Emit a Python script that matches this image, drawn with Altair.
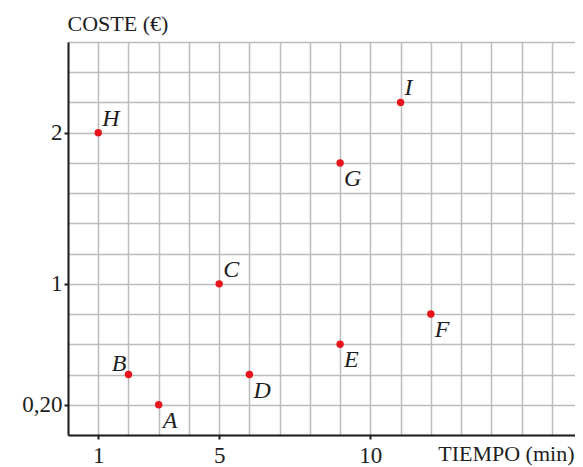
import altair as alt
import pandas as pd

labels = ["A", "B", "C", "D", "E", "F", "G", "H", "I"]
tiempo = [3, 2, 5, 6, 9, 12, 9, 1, 11]
coste = [0.2, 0.4, 1.0, 0.4, 0.6, 0.8, 1.8, 2.0, 2.2]

x_grid = list(range(0, 18))
y_grid = [round(i * 0.2, 1) for i in range(0, 14)]
x_ticks = [1, 5, 10]
y_ticks = [0.2, 1, 2]

df = pd.DataFrame({"label": labels, "tiempo": tiempo, "coste": coste})

below_right = ["A", "D", "E", "F", "G"]
above_right = ["C", "H", "I"]
above_left = ["B"]

FONT = "Liberation Serif"
INK = "#1e1e1e"

x_test = " || ".join(f"datum.value == {v}" for v in x_ticks)
y_test = " || ".join(f"datum.value == {v}" for v in y_ticks)

x_enc = alt.X(
    "tiempo:Q",
    scale=alt.Scale(domain=[0, 17], nice=False, zero=False, range=[0, 514]),
    axis=alt.Axis(
        values=x_grid,
        tickCount=len(x_grid),
        grid=True,
        gridColor="#bcbcbc",
        gridWidth=1.5,
        domainColor=INK,
        domainWidth=2,
        tickColor=INK,
        tickWidth=2,
        tickSize=4,
        tickOpacity={"condition": {"test": x_test, "value": 1}, "value": 0},
        labelExpr=f"({x_test}) ? datum.label : ''",
        labelFont=FONT,
        labelFontSize=23,
        labelColor=INK,
        labelPadding=5,
        labelFlush=False,
        labelOverlap=False,
        title="TIEMPO (min)",
        titleFont=FONT,
        titleFontSize=22,
        titleFontWeight="normal",
        titleColor=INK,
        titleAlign="right",
        titleAnchor="end",
        titleBaseline="alphabetic",
        titleX=506,
        titleY=25,
    ),
)

y_enc = alt.Y(
    "coste:Q",
    scale=alt.Scale(domain=[0, 2.6], nice=False, zero=False),
    axis=alt.Axis(
        values=y_grid,
        tickCount=len(y_grid),
        grid=True,
        gridColor="#bcbcbc",
        gridWidth=1.5,
        domainColor=INK,
        domainWidth=2,
        tickColor=INK,
        tickWidth=2,
        tickSize=4,
        tickOpacity={"condition": {"test": y_test, "value": 1}, "value": 0},
        labelExpr="datum.value == 0.2 ? '0,20' : (datum.value == 1 ? '1' : (datum.value == 2 ? '2' : ''))",
        labelFont=FONT,
        labelFontSize=23,
        labelColor=INK,
        labelPadding=2,
        labelFlush=False,
        labelOverlap=False,
        title="COSTE (€)",
        titleFont=FONT,
        titleFontSize=22,
        titleFontWeight="normal",
        titleColor=INK,
        titleAngle=0,
        titleAlign="left",
        titleBaseline="alphabetic",
        titleX=-1,
        titleY=-12,
    ),
)

base = alt.Chart(df)

points = base.mark_point(filled=True, size=55, color="#e8141c", opacity=1).encode(x=x_enc, y=y_enc)

def lab(names, dx, dy, align):
    return base.transform_filter(
        alt.FieldOneOfPredicate(field="label", oneOf=names)
    ).mark_text(
        font=FONT, fontSize=24, fontStyle="italic", color=INK,
        dx=dx, dy=dy, align=align, baseline="alphabetic",
    ).encode(x=x_enc, y=y_enc, text="label:N")

chart = alt.layer(
    points,
    lab(below_right, 4, 23, "left"),
    lab(above_right, 4, -7, "left"),
    lab(above_left, -2, -4, "right"),
).properties(
    width=507,
    height=393,
    autosize=alt.AutoSizeParams(type="none"),
    padding={"left": 60, "top": 34, "right": 0, "bottom": 32},
).configure_view(stroke=None)

chart.save("out.html", embed_options={"renderer": "svg", "actions": False})
